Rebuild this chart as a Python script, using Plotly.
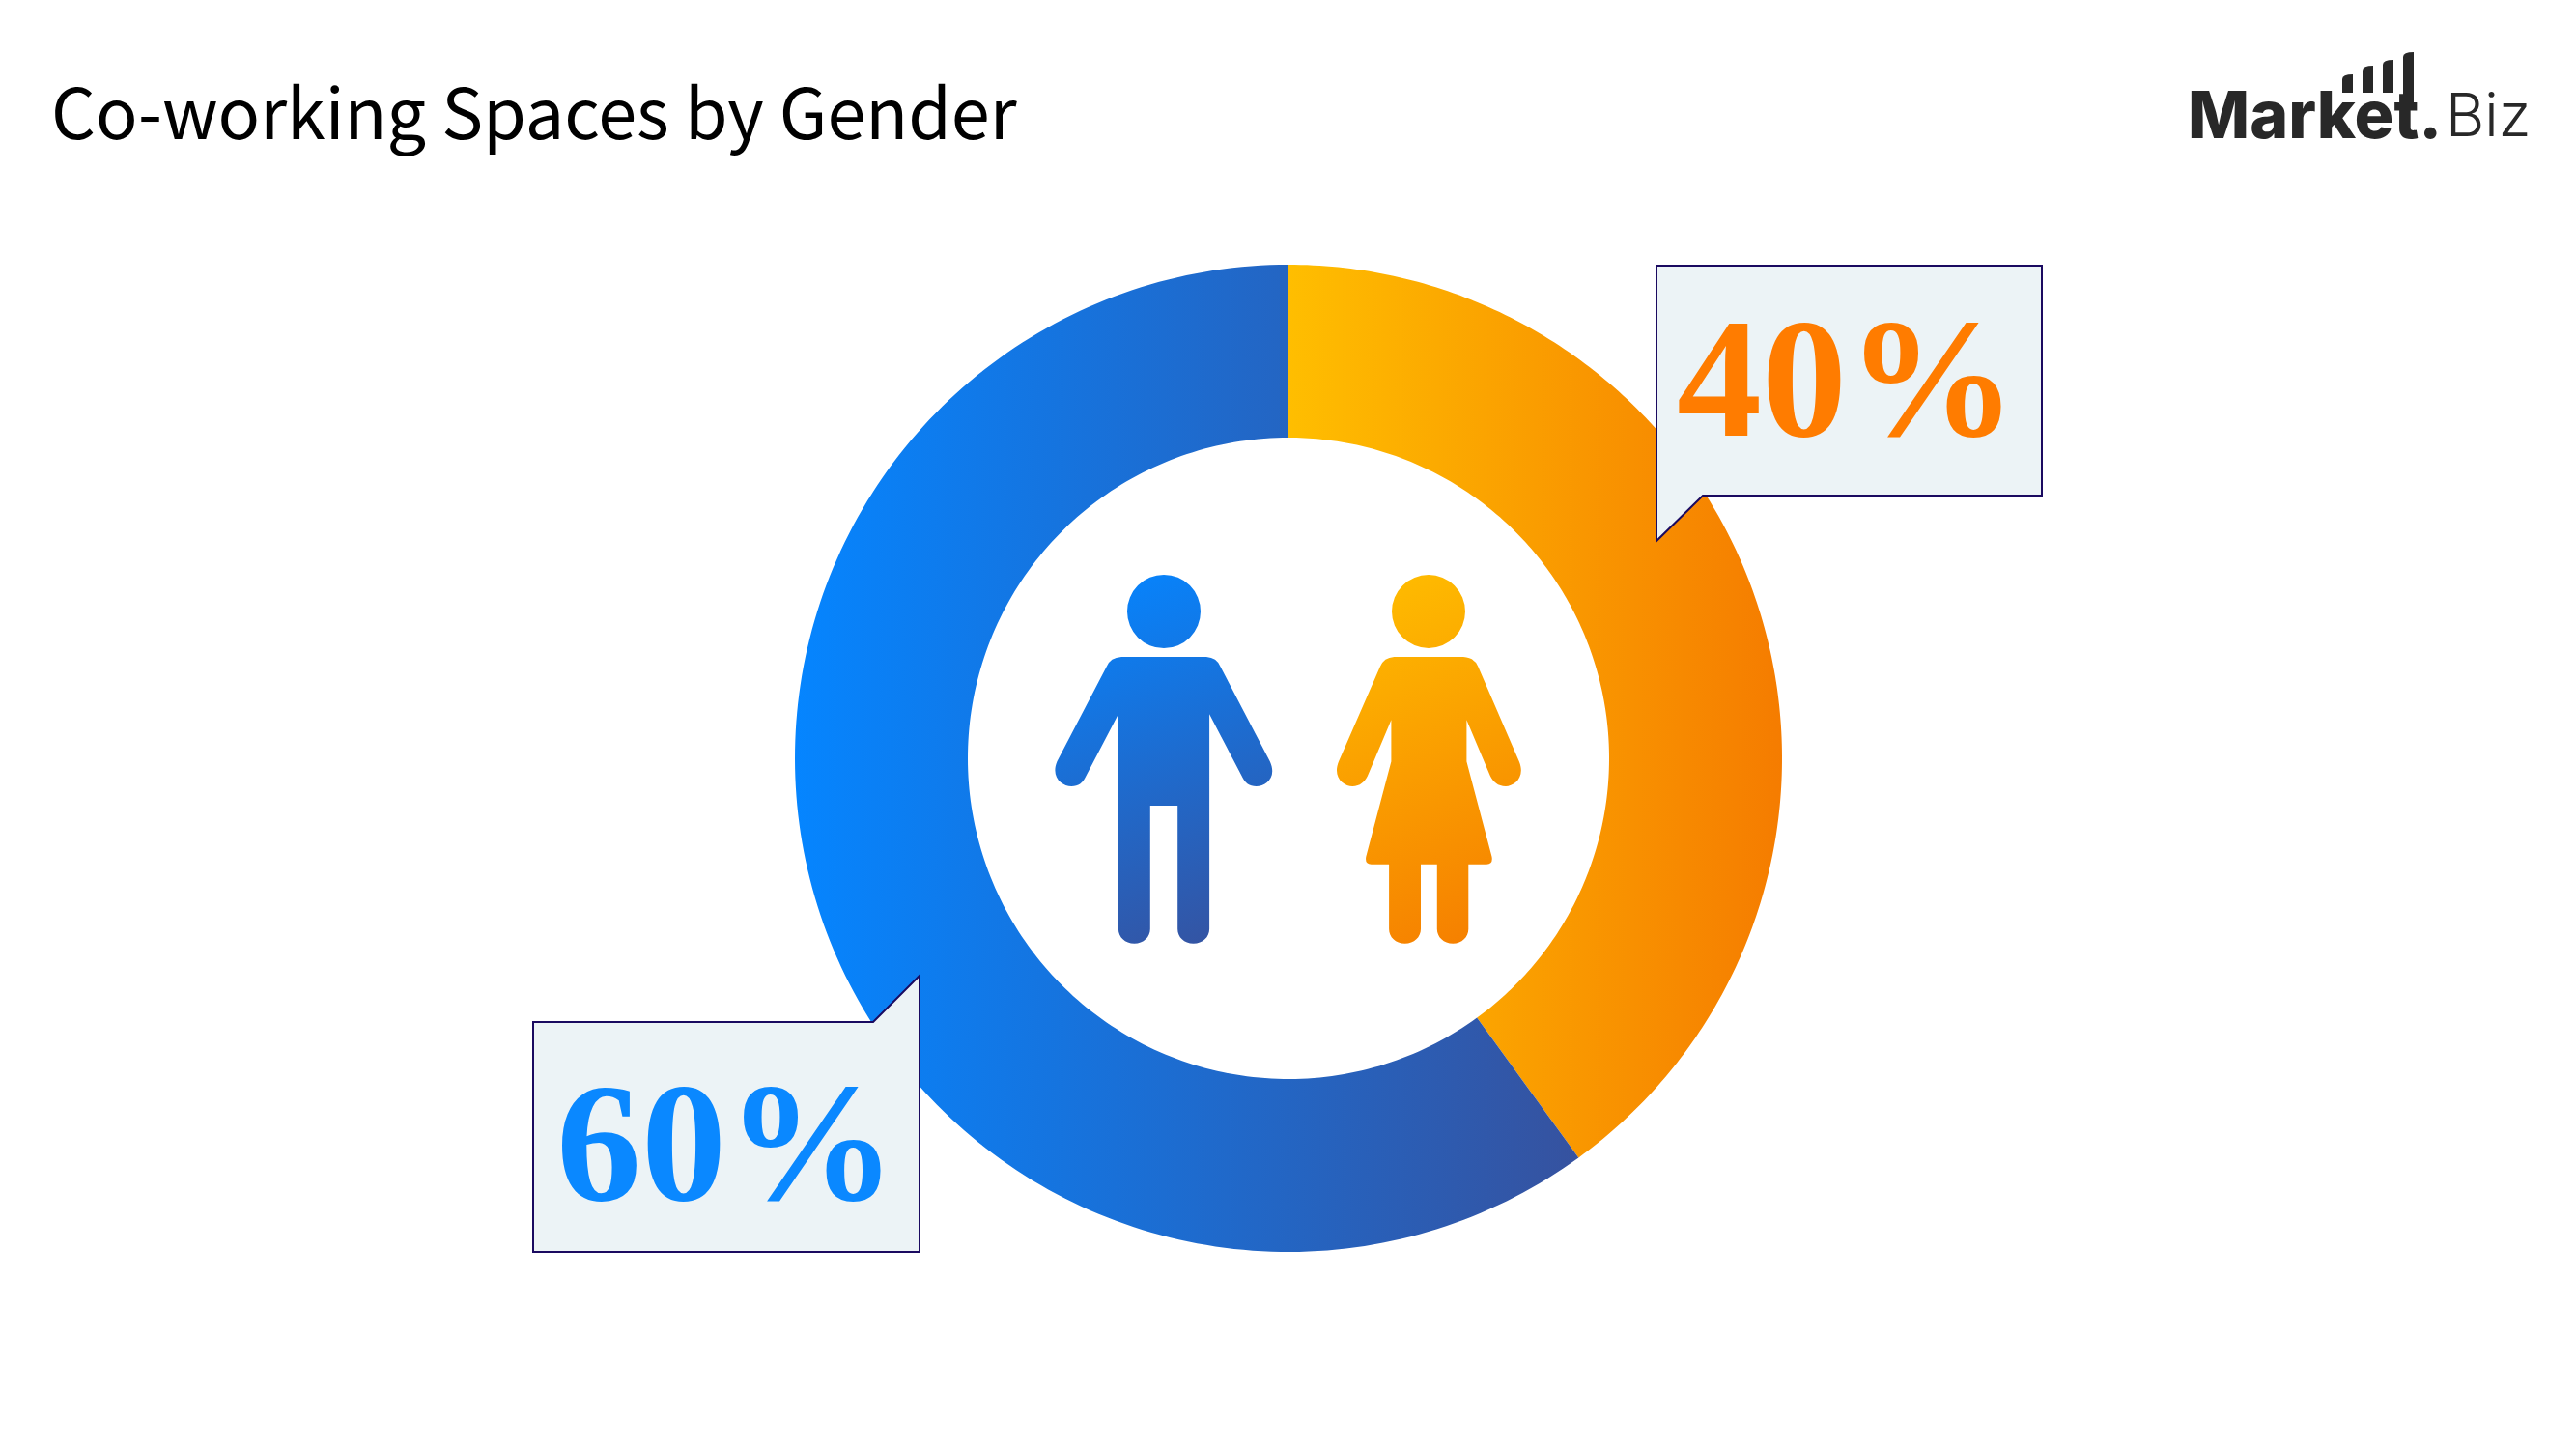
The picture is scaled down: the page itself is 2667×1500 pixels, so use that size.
#%%
# co-working spaces by gender, donut with callouts
import base64
import numpy as np
import plotly.graph_objects as go

# data
labels = ['Female', 'Male']
shares = [40, 60]
title = 'Co-working Spaces by Gender'
logo_bold = 'Market.'
logo_light = 'Biz'

W, H = 2667, 1500
center = (1334, 785)
r_outer, r_inner = 511, 332

slice_colors = {'Female': ['#FFBE00', '#F57C00'], 'Male': ['#0585FF', '#36529F']}
label_colors = {'Female': '#FF7C00', 'Male': '#0A88FF'}
label_pos = {'Female': (1912, 391), 'Male': (752, 1182)}
callouts = {
    'Female': 'M1715,275 L2114,275 L2114,513 L1763,513 L1715,560 Z',
    'Male': 'M552,1058 L904,1058 L952,1010 L952,1296 L552,1296 Z',
}

fig = go.Figure()

#%%
# donut slices, clockwise from 12 o'clock. pie has no gradient so use filled scatter
start = 0
for name, share in zip(labels, shares):
    a = np.radians(np.linspace(start, start + share, 200) * 3.6)
    xs = np.r_[center[0] + r_outer * np.sin(a), center[0] + r_inner * np.sin(a[::-1])]
    ys = np.r_[center[1] - r_outer * np.cos(a), center[1] - r_inner * np.cos(a[::-1])]
    fig.add_trace(go.Scatter(
        x=xs, y=ys, mode='none', fill='toself', name=name, showlegend=False,
        fillgradient=dict(type='horizontal',
                          colorscale=[[0, slice_colors[name][0]], [1, slice_colors[name][1]]]),
    ))
    start += share

#%%
# callouts
for name, share in zip(labels, shares):
    fig.add_shape(type='path', path=callouts[name], fillcolor='#ECF3F6',
                  line=dict(color='#1A0A60', width=2), layer='above')
    fig.add_annotation(x=label_pos[name][0], y=label_pos[name][1], text=f'{share}%', showarrow=False,
                       xanchor='center', yanchor='middle',
                       font=dict(family='Liberation Sans Narrow', size=176, weight='bold',
                                 color=label_colors[name]))

#%%
# the two people, diagonal gradient so they go in as one svg picture
def px(pts, ox=1050, oy=570):
    return [(ox + x / 2.613, oy + y / 3) for x, y in pts]

def head(cx, cy, r=38):
    return f'M{cx - r},{cy} a{r},{r} 0 1,0 {2 * r},0 a{r},{r} 0 1,0 {-2 * r},0 Z'

def outline(cmds):
    out = ''
    for c, pts in cmds:
        out += c + ' '.join(f'{x:.1f},{y:.1f}' for x, y in px(pts)) + ' '
    return out + 'Z'

man = outline([
    ('M', [(290, 330)]), ('L', [(520, 330)]), ('Q', [(548, 332), (558, 360)]),
    ('L', [(692, 655)]), ('C', [(712, 705), (680, 732), (655, 732)]), ('C', [(636, 732), (624, 720), (618, 705)]),
    ('L', [(528, 508), (528, 1175)]), ('C', [(528, 1200), (510, 1220), (485, 1220)]),
    ('C', [(460, 1220), (442, 1200), (442, 1175)]), ('L', [(442, 792), (368, 792), (368, 1175)]),
    ('C', [(368, 1200), (350, 1220), (325, 1220)]), ('C', [(300, 1220), (282, 1200), (282, 1175)]),
    ('L', [(282, 508), (192, 705)]), ('C', [(186, 720), (174, 732), (155, 732)]),
    ('C', [(130, 732), (98, 705), (116, 655)]), ('L', [(250, 360)]), ('Q', [(260, 332), (290, 330)]),
])
woman = outline([
    ('M', [(1028, 330)]), ('L', [(1215, 330)]), ('Q', [(1245, 332), (1255, 360)]),
    ('L', [(1366, 655)]), ('C', [(1384, 705), (1352, 732), (1330, 732)]), ('C', [(1308, 732), (1296, 718), (1288, 700)]),
    ('L', [(1224, 526), (1224, 655), (1292, 950)]), ('Q', [(1296, 974), (1278, 974)]),
    ('L', [(1229, 974), (1229, 1175)]), ('C', [(1229, 1200), (1211, 1220), (1187, 1220)]),
    ('C', [(1162, 1220), (1144, 1200), (1144, 1175)]), ('L', [(1144, 974), (1100, 974), (1100, 1175)]),
    ('C', [(1100, 1200), (1082, 1220), (1057, 1220)]), ('C', [(1032, 1220), (1014, 1200), (1014, 1175)]),
    ('L', [(1014, 974), (966, 974)]), ('Q', [(948, 974), (952, 950)]),
    ('L', [(1020, 655), (1020, 526), (956, 700)]), ('C', [(948, 718), (936, 732), (915, 732)]),
    ('C', [(892, 732), (860, 705), (878, 655)]), ('L', [(990, 360)]), ('Q', [(1000, 332), (1028, 330)]),
])
svg = f'''<svg xmlns="http://www.w3.org/2000/svg" width="{W}" height="{H}" viewBox="0 0 {W} {H}">
<defs>
<linearGradient id="m" gradientUnits="userSpaceOnUse" x1="1130" y1="594" x2="1290" y2="980">
<stop offset="0" stop-color="#0585FF"/><stop offset="1" stop-color="#36529F"/></linearGradient>
<linearGradient id="w" gradientUnits="userSpaceOnUse" x1="1400" y1="594" x2="1575" y2="980">
<stop offset="0" stop-color="#FFBE00"/><stop offset="1" stop-color="#F57C00"/></linearGradient>
</defs>
<path fill="url(#m)" fill-rule="evenodd" d="{head(1205, 633)} {man}"/>
<path fill="url(#w)" fill-rule="evenodd" d="{head(1479, 633)} {woman}"/>
</svg>'''
fig.add_layout_image(source='data:image/svg+xml;base64,' + base64.b64encode(svg.encode()).decode(),
                     xref='paper', yref='paper', x=0, y=1, sizex=1, sizey=1,
                     xanchor='left', yanchor='top', sizing='stretch', layer='above')

#%%
# title and logo
fig.add_annotation(x=51, y=112, text=title, showarrow=False, xanchor='left', yanchor='middle',
                   font=dict(family='Noto Sans CJK JP', size=72, color='#000000'))
fig.add_annotation(x=2263, y=118, text=logo_bold, showarrow=False, xanchor='left', yanchor='middle',
                   font=dict(family='Inter', size=68, weight=800, color='#282828'))
fig.add_annotation(x=2530, y=118, text=logo_light, showarrow=False, xanchor='left', yanchor='middle',
                   font=dict(family='Inter', size=62, weight=300, color='#282828'))

# bars above the logo
for x0, top in [(2425, 77), (2446, 68), (2467, 62), (2488, 54)]:
    w = 11
    fig.add_shape(type='path', layer='above', fillcolor='#282828', line_width=0,
                  path=f'M{x0},{96 if x0 < 2488 else 110} L{x0},{top + 5} Q{x0},{top} {x0 + w},{top} L{x0 + w},{96 if x0 < 2488 else 110} Z')

fig.update_layout(width=W, height=H, margin=dict(l=0, r=0, t=0, b=0),
                  paper_bgcolor='white', plot_bgcolor='white', showlegend=False)
fig.update_xaxes(range=[0, W], visible=False, fixedrange=True)
fig.update_yaxes(range=[H, 0], visible=False, fixedrange=True)

fig.write_html('out.html', config={'displayModeBar': False},
               post_script="document.body.style.margin='0';document.body.style.overflow='hidden';")
